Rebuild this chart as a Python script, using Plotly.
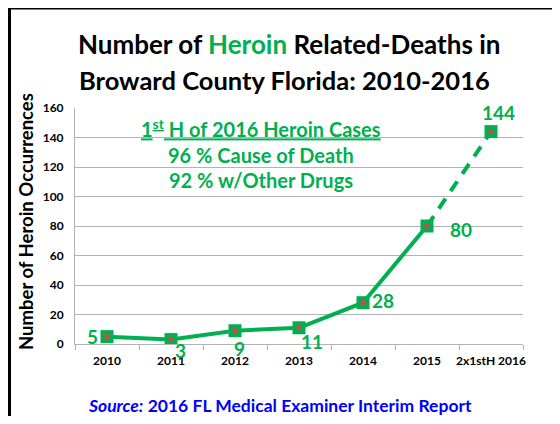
import plotly.graph_objects as go

# ---- data ----
categories = ["2010", "2011", "2012", "2013", "2014", "2015", "2x1stH 2016"]
deaths = [5, 3, 9, 11, 28, 80, 144]
y_ticks = [0, 20, 40, 60, 80, 100, 120, 140, 160]

title_line1 = "Number of <span style='color:#00b050'>Heroin</span> Related-Deaths in"
title_line2 = "Broward County Florida: 2010-2016"
y_title = "Number of Heroin Occurrences"
note_lines = ["<u>1<sup>st</sup> H of 2016 Heroin Cases</u>",
              "96 % Cause of Death",
              "92 % w/Other Drugs"]
source_text = "<i>Source:</i> 2016 FL Medical Examiner Interim Report"

# ---- style ----
GREEN = "#00b050"
RED = "#c0504d"
BLUE = "#0000ff"
GRID = "#b3b3b3"
FONT = "Lato, sans-serif"

# page body margin offsets the figure by 8px; build the figure to fit inside
OFF = 8
W, H = 544, 408
L, R, T, B = 67, 29, 100, 72


def px(x):
    """reference-image x pixel -> paper coordinate"""
    return (x - OFF - L) / (W - L - R)


def py(y):
    """reference-image y pixel -> paper coordinate"""
    return (H - B - (y - OFF)) / (H - T - B)


fig = go.Figure()

# solid part of the line
fig.add_trace(go.Scatter(
    x=categories[:6], y=deaths[:6], mode="lines",
    line=dict(color=GREEN, width=4), hoverinfo="skip", showlegend=False))
# dashed projection
fig.add_trace(go.Scatter(
    x=categories[5:], y=deaths[5:], mode="lines",
    line=dict(color=GREEN, width=4, dash="12px,9px"), hoverinfo="skip", showlegend=False))
# markers: green square with red centre
fig.add_trace(go.Scatter(
    x=categories, y=deaths, mode="markers",
    marker=dict(symbol="square", size=13, color=GREEN), showlegend=False))
fig.add_trace(go.Scatter(
    x=categories, y=deaths, mode="markers",
    marker=dict(symbol="square", size=5, color=RED), showlegend=False))

annotations = []
# data labels
shifts = [(-15, 0), (9, -11), (4, -18), (13, -14), (20, 2), (34, -3), (7, 19)]
for i, (v, (dx, dy)) in enumerate(zip(deaths, shifts)):
    annotations.append(dict(
        x=i, y=v, xref="x", yref="y", text="<b>%d</b>" % v, showarrow=False,
        xshift=dx, yshift=dy, font=dict(family=FONT, size=19, color=GREEN)))

# title
annotations.append(dict(x=px(289), y=py(44), xref="paper", yref="paper",
                        text="<b>" + title_line1 + "</b>", showarrow=False,
                        xanchor="center", yanchor="middle",
                        font=dict(family=FONT, size=26, color="black")))
annotations.append(dict(x=px(284), y=py(80), xref="paper", yref="paper",
                        text="<b>" + title_line2 + "</b>", showarrow=False,
                        xanchor="center", yanchor="middle",
                        font=dict(family=FONT, size=25.5, color="black")))

# y title
annotations.append(dict(x=px(26), y=py(222), xref="paper", yref="paper",
                        text="<b>" + y_title + "</b>", showarrow=False, textangle=-90,
                        xanchor="center", yanchor="middle",
                        font=dict(family=FONT, size=18.5, color="black")))

# note
for line, yy in zip(note_lines, [128, 155, 180]):
    annotations.append(dict(x=px(261), y=py(yy), xref="paper", yref="paper",
                            text="<b>" + line + "</b>", showarrow=False,
                            xanchor="center", yanchor="middle",
                            font=dict(family=FONT, size=20, color=GREEN)))

# source
annotations.append(dict(x=px(280), y=py(405), xref="paper", yref="paper",
                        text="<b>" + source_text + "</b>", showarrow=False,
                        xanchor="center", yanchor="middle",
                        font=dict(family=FONT, size=17.5, color=BLUE)))

shapes = [
    dict(type="line", xref="paper", yref="paper", x0=px(8), x1=px(570), y0=py(8), y1=py(8),
         line=dict(color="black", width=3)),
    dict(type="line", xref="paper", yref="paper", x0=px(9.5), x1=px(9.5), y0=py(7), y1=py(440),
         line=dict(color="black", width=3)),
]

fig.update_layout(
    width=W, height=H,
    margin=dict(l=L, r=R, t=T, b=B),
    paper_bgcolor="white", plot_bgcolor="white",
    font=dict(family=FONT, color="black"),
    annotations=annotations, shapes=shapes,
    showlegend=False,
)
fig.update_xaxes(
    type="category", categoryorder="array", categoryarray=categories,
    range=[-0.5, 6.5], showgrid=False, showline=True, linecolor=GRID, linewidth=1,
    ticks="outside", tickson="boundaries", ticklen=5, tickcolor=GRID, tickangle=0,
    automargin=False, ticklabelstandoff=6,
    tickfont=dict(family=FONT, size=12, color="black", weight="bold"), zeroline=False)
fig.update_yaxes(
    range=[0, 160], tickvals=y_ticks, showgrid=True, gridcolor=GRID, gridwidth=1,
    showline=True, linecolor=GRID, linewidth=1, ticks="", zeroline=False,
    automargin=False, ticklabelstandoff=8,
    tickfont=dict(family=FONT, size=12, color="black", weight="bold"))

fig.write_html("out.html")
